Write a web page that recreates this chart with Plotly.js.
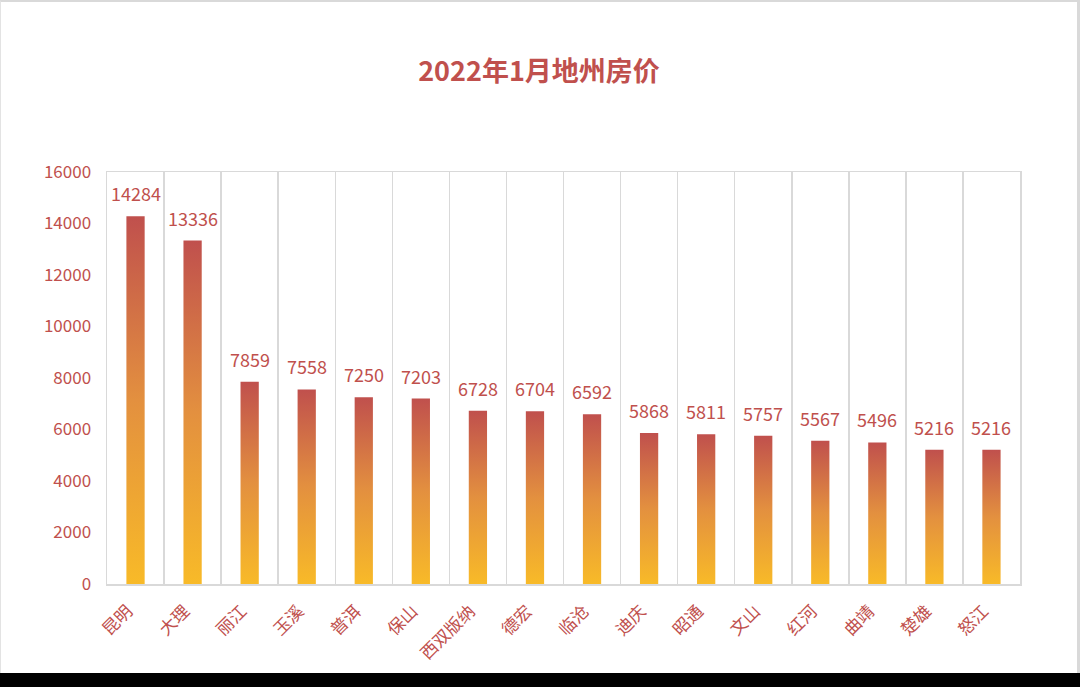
<!DOCTYPE html>
<html><head><meta charset="utf-8">
<script src="https://cdn.plot.ly/plotly-3.0.1.min.js"></script>
<style>
html,body{margin:0;padding:0;background:#000;}
#wrap{width:1080px;height:687px;background:#000;position:relative;}
#chart{position:absolute;left:0;top:0;width:1076px;height:671px;background:#fff;border-top:2px solid #d9d9d9;border-left:1px solid #e3e3e3;border-right:3px solid #d9d9d9;}
</style></head>
<body><div id="wrap"><div id="chart"></div></div>
<script>
const categories = ["昆明","大理","丽江","玉溪","普洱","保山","西双版纳","德宏","临沧","迪庆","昭通","文山","红河","曲靖","楚雄","怒江"];
const prices = [14284,13336,7859,7558,7250,7203,6728,6704,6592,5868,5811,5757,5567,5496,5216,5216];
const yTicks = [0,2000,4000,6000,8000,10000,12000,14000,16000];

const RED = "#C0504D";
const FONT = "Noto Sans CJK SC, Noto Sans, sans-serif";

const trace = {
  type: "bar", x: categories, y: prices,
  width: 0.32,
  marker: {color: "#E8893A", line: {width: 0}},
  hoverinfo: "x+y"
};

const annotations = categories.map((c, i) => ({
  x: c, y: prices[i], xref: "x", yref: "y",
  text: String(prices[i]), showarrow: false,
  yanchor: "bottom", yshift: 8,
  font: {family: FONT, size: 18, color: RED}
}));

const layout = {
  width: 1076, height: 671,
  margin: {l: 106, r: 57, t: 170, b: 89},
  paper_bgcolor: "#ffffff", plot_bgcolor: "#ffffff",
  showlegend: false,
  title: {text: "<b>2022年1月地州房价</b>", x: 0.5, xanchor: "center", y: 1 - 70/671, yanchor: "middle", yref: "container",
          font: {family: FONT, size: 27, color: RED}},
  xaxis: {type: "category", tickson: "boundaries", showgrid: true, gridcolor: "#d9d9d9", gridwidth: 1.5,
          showline: true, linecolor: "#d9d9d9", linewidth: 1.5, mirror: true,
          ticks: "", tickangle: -45, ticklabelstandoff: 9, ticklabelshift: -8,
          tickfont: {family: FONT, size: 17, color: RED}},
  yaxis: {range: [0, 16000], tickvals: yTicks, ticktext: yTicks.map(String), showgrid: false, zeroline: false,
          showline: true, linecolor: "#d9d9d9", linewidth: 1.5, mirror: true,
          ticks: "", ticklabelstandoff: 11, tickfont: {family: FONT, size: 17, color: RED}},
  annotations: annotations,
  bargap: 0.68
};

function addGradient(gd) {
  const svg = gd.querySelector("svg.main-svg");
  if (!svg) return;
  const ns = "http://www.w3.org/2000/svg";
  let defs = svg.querySelector("defs");
  if (!defs) { defs = document.createElementNS(ns, "defs"); svg.insertBefore(defs, svg.firstChild); }
  if (!svg.querySelector("#barGrad")) {
    const g = document.createElementNS(ns, "linearGradient");
    g.setAttribute("id", "barGrad"); g.setAttribute("x1", "0"); g.setAttribute("y1", "0"); g.setAttribute("x2", "0"); g.setAttribute("y2", "1");
    [["0%", "#C0504D"], ["50%", "#E3903F"], ["100%", "#F8BA28"]].forEach(([o, c]) => {
      const s = document.createElementNS(ns, "stop"); s.setAttribute("offset", o); s.setAttribute("stop-color", c); g.appendChild(s);
    });
    defs.appendChild(g);
  }
  gd.querySelectorAll(".barlayer .point path").forEach(p => { p.style.fill = "url(#barGrad)"; });
}

Plotly.newPlot("chart", [trace], layout, {displayModeBar: false, staticPlot: true}).then(gd => {
  addGradient(gd);
  gd.on("plotly_afterplot", () => addGradient(gd));
});
</script></body></html>
